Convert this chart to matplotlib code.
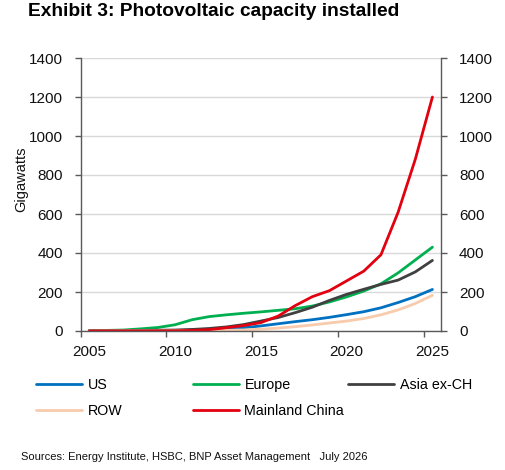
import numpy as np
import matplotlib
matplotlib.use("Agg")
import matplotlib.pyplot as plt
from matplotlib.ticker import FixedLocator

plt.rcParams['font.family'] = ['Liberation Sans', 'DejaVu Sans']

years = list(range(2005, 2026))
us = [0.5, 0.6, 0.8, 1.2, 1.6, 2.9, 5, 7.5, 11, 17, 26, 37, 48, 58, 70, 84, 99, 119, 146, 176, 213]
europe = [2, 3, 5, 11, 18, 32, 58, 74, 83, 91, 98, 106, 114, 128, 149, 175, 205, 242, 298, 364, 430]
asia_ex_ch = [1.5, 2, 2.5, 3, 4, 5, 8, 13, 21, 33, 51, 69, 94, 122, 157, 188, 214, 239, 261, 303, 362]
row = [0.2, 0.3, 0.4, 0.6, 0.8, 1, 1.5, 2.5, 3.5, 5.5, 9, 15, 22, 31, 41, 51, 64, 83, 108, 141, 183]
china = [0.1, 0.1, 0.1, 0.1, 0.4, 0.9, 3, 7, 17, 28, 43, 76, 130, 176, 207, 257, 307, 391, 609, 880, 1200]

series = [
    ("US", us, "#0070C0"),
    ("Europe", europe, "#00B050"),
    ("Asia ex-CH", asia_ex_ch, "#404040"),
    ("ROW", row, "#F8CBAD"),
    ("Mainland China", china, "#E3000F"),
]

fig = plt.figure(figsize=(5.05, 4.70), dpi=100)
ax = fig.add_axes([80.7 / 505, 139 / 470, (441 - 80.7) / 505, 273 / 470])

lines = {}
for name, vals, col in series:
    l, = ax.plot(years, vals, color=col, lw=2.0, solid_capstyle='round')
    lines[name] = l

ax.set_xlim(2004.5, 2025.5)
ax.set_ylim(0, 1400)
ax.set_yticks(np.arange(0, 1401, 200))
ax.yaxis.grid(True, color='#d9d9d9', lw=1.0)
ax.set_axisbelow(True)

# labels sit on the years, tick marks between categories
ax.set_xticks([2005, 2010, 2015, 2020, 2025])
ax.xaxis.set_minor_locator(FixedLocator([2004.5, 2009.5, 2014.5, 2019.5, 2024.5]))
ax.tick_params(axis='x', which='major', length=0, pad=10, labelsize=11, colors='#111111')
ax.tick_params(axis='x', which='minor', length=4, width=1, color='#595959', direction='out')
ax.tick_params(axis='y', which='major', length=4, width=1, color='#595959', direction='out',
               left=True, right=True, labelleft=True, labelright=True, labelsize=11,
               labelcolor='#111111', pad=9)

for s in ['left', 'right', 'bottom']:
    ax.spines[s].set_color('#595959')
    ax.spines[s].set_linewidth(1.0)
ax.spines['top'].set_visible(False)

fig.text(21 / 505, 1 - 179 / 470, "Gigawatts", rotation=90, ha='center', va='center',
         fontsize=10.5, color='#111111')

fig.text(28 / 505, 1 - 12 / 470, "Exhibit 3: Photovoltaic capacity installed",
         fontsize=13.8, fontweight='bold', ha='left', va='center', color='#000000')

fig.text(21 / 505, 1 - 457 / 470, "Sources: Energy Institute, HSBC, BNP Asset Management   July 2026",
         fontsize=8, ha='left', va='center', color='#111111')

columns = [(["US", "ROW"], 36), (["Europe", "Mainland China"], 193), (["Asia ex-CH"], 348)]
for names, xpos in columns:
    fig.legend([lines[n] for n in names], names, loc='upper left',
               bbox_to_anchor=(xpos / 505, 1 - 378 / 470), frameon=False,
               borderpad=0, borderaxespad=0, fontsize=10.3, handlelength=3.2,
               handletextpad=0.4, labelspacing=0.85)

fig.savefig("out.png", dpi=100)
